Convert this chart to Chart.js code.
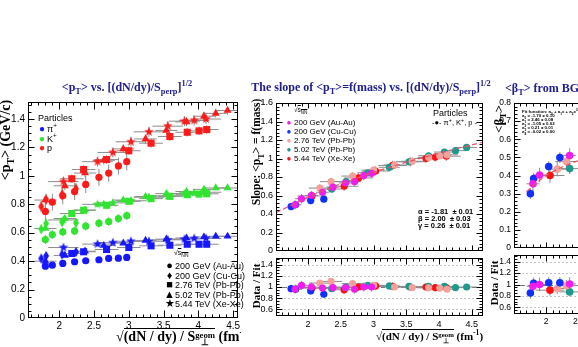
<!DOCTYPE html>
<html>
<head>
<meta charset="utf-8">
<script src="https://cdn.jsdelivr.net/npm/chart.js@4.4.1/dist/chart.umd.min.js"></script>
<style>
  body { margin: 0; width: 578px; height: 347px; overflow: hidden; background: #fff; position: relative; font-family: "Liberation Sans", Arial, sans-serif; }
  .box { position: absolute; }
  .t { position: absolute; white-space: nowrap; line-height: 1; }
  .ttl { font: bold 12px "Liberation Serif", serif; color: #20208c; }
  .ser { font-weight: bold; font-family: "Liberation Serif", serif; }
  .rot { transform: translate(-50%, -50%) rotate(-90deg); }
  .t sub, .t sup { font-size: 70%; line-height: 0; }
  .ss { display: inline-block; vertical-align: -0.45em; line-height: 0.85; font-size: 62%; text-align: center; }
  .leg div { height: 9.6px; line-height: 9.6px; }
  .mk { display: inline-block; width: 10px; text-align: center; }
  .big .mk { font-size: 11px; width: 11px; }
</style>
</head>
<body>
<div id="stage"></div>

<!-- titles -->
<div class="t ttl" style="left:127px;top:87px;transform:translate(-50%,-50%)">&lt;p<sub>T</sub>&gt; vs. [(dN/dy)/S<sub>perp</sub>]<sup>1/2</sup></div>
<div class="t ttl" style="left:371px;top:87px;transform:translate(-50%,-50%)">The slope of &lt;p<sub>T</sub>&gt;=f(mass) vs. [(dN/dy)/S<sub>perp</sub>]<sup>1/2</sup></div>
<div class="t ttl" style="left:505px;top:81px">&lt;β<sub>T</sub>&gt; from BGBW</div>

<!-- axis titles -->
<div class="t ser rot" style="left:6px;top:140px;font-size:14px">&lt;p<sub>T</sub>&gt; (GeV/c)</div>
<div class="t ser rot" style="left:257px;top:152px;font-size:11.5px">Slope: &lt;p<sub>T</sub>&gt; = f(mass)</div>
<div class="t ser rot" style="left:256px;top:286px;font-size:11px">Data / Fit</div>
<div class="t ser rot" style="left:498px;top:119px;font-size:13px">&lt;β<sub>T</sub>&gt;</div>
<div class="t ser rot" style="left:494px;top:283px;font-size:11px">Data / Fit</div>

<div class="box" style="left:0;top:322px;width:241px;height:25px;overflow:hidden">
  <div class="t ser" style="left:116px;top:8px;font-size:14px">√<span style="border-top:1.4px solid #000">(dN / dy) / S<span class="ss">geom<br>⊥</span></span> (fm<sup>-1</sup>)</div>
</div>
<div class="t ser" style="left:376px;top:331px;font-size:11px">√<span style="border-top:1.2px solid #000">(dN / dy) / S<span class="ss">geom<br>⊥</span></span> (fm<sup>-1</sup>)</div>

<!-- left legends -->
<div class="t" style="left:38px;top:114px;font-size:9px">Particles</div>
<div class="t leg" style="left:37px;top:124px;font-size:9px">
  <div><span class="mk" style="color:#1616ff;font-size:10px">●</span>π<sup>+</sup></div>
  <div><span class="mk" style="color:#2ee62e;font-size:10px">●</span>K<sup>+</sup></div>
  <div><span class="mk" style="color:#ff1a1a;font-size:10px">●</span>p</div>
</div>
<div class="t" style="left:174px;top:249px;font-size:7px">√<span style="text-decoration:overline">s<sub>NN</sub></span></div>
<div class="t leg big" style="left:164px;top:261px;font-size:9px">
  <div><span class="mk">●</span>200 GeV (Au-Au)</div>
  <div><span class="mk">♦</span>200 GeV (Cu-Cu)</div>
  <div><span class="mk">■</span>2.76 TeV (Pb-Pb)</div>
  <div><span class="mk">▲</span>5.02 TeV (Pb-Pb)</div>
  <div><span class="mk">★</span>5.44 TeV (Xe-Xe)</div>
</div>

<!-- middle legends -->
<div class="t" style="left:294px;top:107px;font-size:6.5px">√<span style="text-decoration:overline">s<sub>NN</sub></span></div>
<div class="t leg" style="left:284px;top:118px;font-size:8px">
  <div style="height:9px;line-height:9px"><span class="mk" style="color:#f01cf0">●</span>200 GeV (Au-Au)</div>
  <div style="height:9px;line-height:9px"><span class="mk" style="color:#1030ff">●</span>200 GeV (Cu-Cu)</div>
  <div style="height:9px;line-height:9px"><span class="mk" style="color:#f5a09a">●</span>2.76 TeV (Pb-Pb)</div>
  <div style="height:9px;line-height:9px"><span class="mk" style="color:#1d9a8c">●</span>5.02 TeV (Pb-Pb)</div>
  <div style="height:9px;line-height:9px"><span class="mk" style="color:#ff1010">●</span>5.44 TeV (Xe-Xe)</div>
</div>
<div class="t" style="left:433px;top:109px;font-size:9px">Particles</div>
<div class="t" style="left:432px;top:119px;font-size:7.5px">-●- π<sup>+</sup>, K<sup>+</sup>, p -</div>
<div class="t" style="left:418px;top:209px;font-size:7.5px;font-weight:bold;line-height:6.8px">α = -1.81 &nbsp;± 0.01<br>β = 2.00 &nbsp;± 0.03<br>γ = 0.26 &nbsp;± 0.01</div>

<!-- right fit box -->
<div class="t" style="left:522px;top:110px;font-size:4.4px;font-weight:bold;line-height:4px">Fit function: a<sub>0</sub> + a<sub>1</sub>x + a<sub>2</sub>x<sup>2</sup> + a<sub>3</sub>x<sup>3</sup> + a<sub>4</sub>x<sup>4</sup><br>a<sub>0</sub> = -1.70 ± 0.10<br>a<sub>1</sub> = 2.46 ± 0.08<br>a<sub>2</sub> = -1.05 ± 0.02<br>a<sub>3</sub> = 0.21 ± 0.01<br>a<sub>4</sub> = -0.02 ± 0.00</div>

<script>
// ---- left panel: <pT> vs sqrt((dN/dy)/S) ----
const xAuAu = [1.80, 1.90, 2.05, 2.22, 2.38, 2.57, 2.71, 2.85, 2.97];
const piAuAu = [0.365, 0.372, 0.384, 0.396, 0.403, 0.410, 0.419, 0.421, 0.426];
const kAuAu = [0.552, 0.587, 0.606, 0.613, 0.646, 0.667, 0.678, 0.700, 0.720];
const pAuAu = [0.75, 0.815, 0.86, 0.89, 0.94, 0.99, 1.02, 1.07, 1.10];

const xCuCu = [1.74, 1.81, 2.04, 2.24];
const piCuCu = [0.419, 0.437, 0.447, 0.465];
const kCuCu = [0.625, 0.665, 0.675, 0.67];
const pCuCu = [0.785, 0.835, 0.87, 0.91];

const xPb276 = [2.18, 2.35, 2.68, 3.00, 3.32, 3.59, 3.84, 4.01, 4.12];
const piPb276 = [0.454, 0.466, 0.482, 0.496, 0.508, 0.512, 0.519, 0.519, 0.519];
const kPb276 = [0.735, 0.758, 0.793, 0.821, 0.840, 0.856, 0.868, 0.872, 0.874];
const pPb276 = [0.98, 1.045, 1.115, 1.177, 1.23, 1.277, 1.307, 1.317, 1.326];

const xPb502 = [1.80, 2.08, 2.37, 2.64, 2.92, 3.24, 3.54, 3.83, 4.08, 4.25, 4.42];
const piPb502 = [0.40, 0.44, 0.47, 0.51, 0.527, 0.546, 0.555, 0.563, 0.57, 0.575, 0.575];
const kPb502 = [0.63, 0.70, 0.76, 0.80, 0.83, 0.855, 0.875, 0.89, 0.905, 0.915, 0.915];
const pPb502 = [0.83, 0.93, 1.02, 1.11, 1.19, 1.26, 1.32, 1.38, 1.42, 1.44, 1.46];

const xXeXe = [2.06, 2.55, 2.77, 3.03, 3.29, 3.56, 3.80, 3.94, 4.11];
const piXeXe = [0.496, 0.52, 0.53, 0.54, 0.54, 0.55, 0.555, 0.56, 0.56];
const kXeXe = [0.69, 0.80, 0.81, 0.825, 0.85, 0.86, 0.875, 0.88, 0.885];
const pXeXe = [0.96, 1.10, 1.165, 1.24, 1.31, 1.35, 1.385, 1.39, 1.40];

const leftXTicks = [2, 2.5, 3, 3.5, 4, 4.5];
const leftYTicks = [0, 0.2, 0.4, 0.6, 0.8, 1, 1.2, 1.4];

// ---- middle panel: slope of <pT>=f(mass) and Data/Fit ----
const slopeAuAu = [0.50, 0.565, 0.60, 0.635, 0.69, 0.735, 0.75, 0.815, 0.84];
const ratioAuAu = [0.96, 1.03, 1.00, 0.98, 0.99, 0.99, 0.96, 1.00, 1.00];
const slopeCuCu = [0.48, 0.50, 0.545, 0.56];
const ratioCuCu = [0.97, 0.96, 0.93, 0.87];
const slopePb276 = [0.68, 0.75, 0.81, 0.875, 0.93, 0.97, 1.01, 1.03, 1.04];
const ratioPb276 = [1.07, 1.10, 1.06, 1.03, 1.00, 0.99, 0.985, 0.98, 0.96];
const xSlopePb502 = [2.36, 2.58, 2.91, 3.24, 3.54, 3.84, 4.08, 4.25, 4.42];
const slopePb502 = [0.67, 0.75, 0.845, 0.905, 0.965, 1.03, 1.07, 1.085, 1.12];
const ratioPb502 = [0.97, 1.00, 1.03, 1.02, 1.01, 1.01, 1.01, 0.99, 1.00];
const slopeXeXe = [0.595, 0.70, 0.79, 0.865, 0.925, 0.965, 1.00, 1.015, 1.025];
const ratioXeXe = [0.98, 0.95, 1.00, 1.02, 1.01, 1.00, 1.00, 0.99, 0.99];
const slopeFitX = [1.51, 2.0, 2.5, 3.0, 3.5, 4.0, 4.5, 4.67];
const slopeFitY = [0.415, 0.584, 0.728, 0.852, 0.96, 1.058, 1.147, 1.176];

const midXTicks = [2, 2.5, 3, 3.5, 4, 4.5];
const slopeYTicks = [0, 0.2, 0.4, 0.6, 0.8, 1, 1.2, 1.4, 1.6];
const ratioYTicks = [0.6, 0.8, 1, 1.2, 1.4];

// ---- right panel: <betaT> from BGBW (only the left edge is visible) ----
const xBetaAuAu = [1.80, 1.90, 2.36];
const betaAuAu = [0.354, 0.403, 0.51];
const bRatioAuAu = [0.97, 1.00, 1.01];
const xBetaCuCu = [1.76, 1.81, 2.04, 2.21];
const betaCuCu = [0.30, 0.383, 0.449, 0.499];
const bRatioCuCu = [0.85, 1.02, 1.03, 1.03];
const xBetaPb276 = [2.17, 2.31];
const betaPb276 = [0.435, 0.477];
const bRatioPb276 = [0.93, 0.98];
const xBetaPb502 = [2.36];
const betaPb502 = [0.438];
const bRatioPb502 = [0.87];
const xBetaXeXe = [2.06];
const betaXeXe = [0.40];
const bRatioXeXe = [0.90];
const betaFitX = [1.70, 1.85, 2.0, 2.2, 2.4, 2.6];
const betaFitY = [0.31, 0.36, 0.40, 0.44, 0.47, 0.495];
const betaYTicks = [0, 0.1, 0.2, 0.3, 0.4, 0.5, 0.6, 0.7, 0.8];

const PI_C = '#1616ff', K_C = '#2ee62e', P_C = '#ff1a1a';
const C_AUAU = '#f01cf0', C_CUCU = '#1030ff', C_PB276 = '#f5a09a', C_PB502 = '#1d9a8c', C_XEXE = '#ff1010';

// custom marker images for star and narrow diamond
function starImg(color, r) {
  const c = document.createElement('canvas');
  c.width = c.height = 2 * r + 2;
  const g = c.getContext('2d');
  g.fillStyle = color;
  g.beginPath();
  for (let i = 0; i < 10; i++) {
    const rr = i % 2 ? r * 0.42 : r;
    const a = -Math.PI / 2 + i * Math.PI / 5;
    g.lineTo(r + 1 + rr * Math.cos(a), r + 1 + rr * Math.sin(a));
  }
  g.closePath();
  g.fill();
  return c;
}
function diamondImg(color, w, h) {
  const c = document.createElement('canvas');
  c.width = 2 * w + 2; c.height = 2 * h + 2;
  const g = c.getContext('2d');
  g.fillStyle = color;
  g.beginPath();
  g.moveTo(w + 1, 1); g.lineTo(2 * w + 1, h + 1); g.lineTo(w + 1, 2 * h + 1); g.lineTo(1, h + 1);
  g.closePath();
  g.fill();
  return c;
}

function marker(kind, color, r) {
  if (kind === 'star') return { pointStyle: starImg(color, 5), pointRadius: 5 };
  if (kind === 'diamond') return { pointStyle: diamondImg(color, 3, 5), pointRadius: 4 };
  if (kind === 'rect') return { pointStyle: 'rect', pointRadius: 5 };
  if (kind === 'triangle') return { pointStyle: 'triangle', pointRadius: 4.6 };
  return { pointStyle: 'circle', pointRadius: r || 3.6 };
}

function points(xs, ys, color, kind, xErr, yErr, r) {
  return Object.assign({
    data: xs.map((x, i) => ({ x, y: ys[i] })),
    backgroundColor: color,
    borderColor: color,
    borderWidth: 0,
    xErr, yErr
  }, marker(kind, color, r));
}

function fitLine(xs, ys) {
  return {
    data: xs.map((x, i) => ({ x, y: ys[i] })),
    showLine: true,
    pointRadius: 0,
    borderColor: '#e8506a',
    borderWidth: 1.2,
    borderDash: [5, 3]
  };
}

// error bars, dotted lines, frame and inner ticks (ROOT look)
const framePlugin = {
  id: 'frame',
  beforeDatasetsDraw(chart, args, o) {
    const { ctx, chartArea: a, scales: { x, y } } = chart;
    ctx.save();
    ctx.beginPath();
    ctx.rect(a.left, a.top, a.right - a.left, a.bottom - a.top);
    ctx.clip();
    ctx.lineWidth = 1;
    (o.hlines || []).forEach(v => {
      const py = Math.round(y.getPixelForValue(v)) + 0.5;
      ctx.strokeStyle = v === 1 ? '#777' : '#c4c4c4';
      ctx.setLineDash(v === 1 ? [4, 3] : [2, 2]);
      ctx.beginPath(); ctx.moveTo(a.left, py); ctx.lineTo(a.right, py); ctx.stroke();
    });
    ctx.setLineDash([]);
    ctx.strokeStyle = '#8c8c8c';
    chart.data.datasets.forEach(ds => {
      if (ds.xErr === undefined) return;
      ds.data.forEach(d => {
        const px = x.getPixelForValue(d.x), py = y.getPixelForValue(d.y);
        ctx.beginPath();
        if (ds.xErr) {
          ctx.moveTo(x.getPixelForValue(d.x - ds.xErr), py);
          ctx.lineTo(x.getPixelForValue(d.x + ds.xErr), py);
        }
        if (ds.yErr) {
          ctx.moveTo(px, y.getPixelForValue(d.y - ds.yErr));
          ctx.lineTo(px, y.getPixelForValue(d.y + ds.yErr));
        }
        ctx.stroke();
      });
    });
    ctx.restore();
  },
  afterDraw(chart, args, o) {
    const { ctx, chartArea: a, scales: { x, y } } = chart;
    if (!o.minorX) return;
    ctx.save();
    ctx.strokeStyle = '#000';
    ctx.lineWidth = 1;
    const L = Math.round(a.left) + 0.5, R = Math.round(a.right) - 0.5;
    const T = Math.round(a.top) + 0.5, B = Math.round(a.bottom) - 0.5;
    ctx.strokeRect(L, T, R - L, B - T);
    ctx.beginPath();
    const tickX = (v, len) => {
      const p = Math.round(x.getPixelForValue(v)) + 0.5;
      if (p < L || p > R) return;
      ctx.moveTo(p, B); ctx.lineTo(p, B - len);
      ctx.moveTo(p, T); ctx.lineTo(p, T + len);
    };
    const tickY = (v, len) => {
      const p = Math.round(y.getPixelForValue(v)) + 0.5;
      if (p < T || p > B) return;
      ctx.moveTo(L, p); ctx.lineTo(L + len, p);
      ctx.moveTo(R, p); ctx.lineTo(R - len, p);
    };
    for (let k = Math.ceil(x.min / o.minorX - 1e-6); k * o.minorX <= x.max + 1e-6; k++) tickX(k * o.minorX, o.minorLen);
    for (let k = Math.ceil(y.min / o.minorY - 1e-6); k * o.minorY <= y.max + 1e-6; k++) tickY(k * o.minorY, o.minorLen);
    x.ticks.forEach(t => tickX(t.value, o.majorX));
    y.ticks.forEach(t => tickY(t.value, o.majorY));
    ctx.stroke();
    ctx.restore();
  }
};
Chart.register(framePlugin);

function axis(min, max, ticks, showLabels, size, fontSize, pad) {
  return {
    type: 'linear', min, max,
    afterBuildTicks: s => { s.ticks = ticks.map(v => ({ value: v })); },
    afterFit: s => {
      if (s.isHorizontal()) s.height = size; else s.width = size;
      // keep the plot frame exactly where the layout puts it
      s.paddingTop = s.paddingBottom = s.paddingLeft = s.paddingRight = 0;
    },
    grid: { display: false, drawTicks: false },
    border: { display: false },
    ticks: {
      display: showLabels, color: '#000', padding: pad, autoSkip: false, maxRotation: 0,
      font: { family: 'Liberation Sans', size: fontSize },
      callback: v => String(v)
    }
  };
}

function makeChart(box, datasets, xAxis, yAxis, pad, frame) {
  const holder = document.createElement('div');
  holder.className = 'box';
  holder.style.left = box[0] + 'px';
  holder.style.top = box[1] + 'px';
  holder.style.width = box[2] + 'px';
  holder.style.height = box[3] + 'px';
  const cv = document.createElement('canvas');
  holder.appendChild(cv);
  document.getElementById('stage').appendChild(holder);
  return new Chart(cv, {
    type: 'scatter',
    data: { datasets },
    options: {
      responsive: true,
      maintainAspectRatio: false,
      animation: false,
      events: [],
      layout: { padding: { left: 0, top: pad[0], right: pad[1], bottom: 0 } },
      scales: { x: xAxis, y: yAxis },
      plugins: { legend: { display: false }, tooltip: { enabled: false }, frame }
    }
  });
}

// left panel
makeChart([0, 95, 245, 245], [
  points(xAuAu, pAuAu, P_C, 'circle', 0, 0.06),
  points(xAuAu, kAuAu, K_C, 'circle', 0, 0.03),
  points(xAuAu, piAuAu, PI_C, 'circle', 0, 0.008),
  points(xCuCu, pCuCu, P_C, 'diamond', 0.03, 0.04),
  points(xCuCu, kCuCu, K_C, 'diamond', 0.03, 0.03),
  points(xCuCu, piCuCu, PI_C, 'diamond', 0.03, 0.015),
  points(xPb276, pPb276, P_C, 'rect', 0.17, 0.03),
  points(xPb276, kPb276, K_C, 'rect', 0.17, 0.02),
  points(xPb276, piPb276, PI_C, 'rect', 0.17, 0.015),
  points(xPb502, pPb502, P_C, 'triangle', 0.16, 0.03),
  points(xPb502, kPb502, K_C, 'triangle', 0.16, 0.015),
  points(xPb502, piPb502, PI_C, 'triangle', 0.16, 0.01),
  points(xXeXe, pXeXe, P_C, 'star', 0.22, 0.035),
  points(xXeXe, kXeXe, K_C, 'star', 0.22, 0.02),
  points(xXeXe, piXeXe, PI_C, 'star', 0.22, 0.01)
], axis(1.55, 4.57, leftXTicks, true, 22, 10, 2),
   axis(0, 1.52, leftYTicks, true, 28, 10, 3),
   [7, 7], { minorX: 0.1, minorY: 0.05, majorX: 7, majorY: 6, minorLen: 3 });

// middle panel, top
makeChart([240, 95, 250, 160], [
  fitLine(slopeFitX, slopeFitY),
  points(xAuAu, slopeAuAu, C_AUAU, 'circle', 0.1, 0.05, 3.6),
  points(xCuCu, slopeCuCu, C_CUCU, 'circle', 0.05, 0.04, 3.6),
  points(xPb276, slopePb276, C_PB276, 'circle', 0.17, 0.04, 3.6),
  points(xSlopePb502, slopePb502, C_PB502, 'circle', 0.16, 0.03, 3.6),
  points(xXeXe, slopeXeXe, C_XEXE, 'circle', 0.22, 0.05, 3.6)
], axis(1.51, 4.67, midXTicks, false, 3, 9, 3),
   axis(0, 1.6, slopeYTicks, true, 36, 9, 3),
   [8, 7], { minorX: 0.1, minorY: 0.04, majorX: 5, majorY: 6, minorLen: 3 });

// middle panel, bottom (Data / Fit)
makeChart([240, 254, 250, 82], [
  points(xAuAu, ratioAuAu, C_AUAU, 'circle', 0.1, 0.08, 3.6),
  points(xCuCu, ratioCuCu, C_CUCU, 'circle', 0.05, 0.07, 3.6),
  points(xPb276, ratioPb276, C_PB276, 'circle', 0.17, 0.05, 3.6),
  points(xSlopePb502, ratioPb502, C_PB502, 'circle', 0.16, 0.03, 3.6),
  points(xXeXe, ratioXeXe, C_XEXE, 'circle', 0.22, 0.07, 3.6)
], axis(1.51, 4.67, midXTicks, true, 20, 9, 3),
   axis(0.48, 1.52, ratioYTicks, true, 36, 9, 3),
   [2, 7], { minorX: 0.1, minorY: 0.05, majorX: 6, majorY: 6, minorLen: 3, hlines: ratioYTicks });

// right panel, top
makeChart([480, 95, 260, 160], [
  fitLine(betaFitX, betaFitY),
  points(xBetaAuAu, betaAuAu, C_AUAU, 'circle', 0.1, 0.04, 3.8),
  points(xBetaCuCu, betaCuCu, C_CUCU, 'circle', 0.05, 0.03, 3.8),
  points(xBetaPb276, betaPb276, C_PB276, 'circle', 0.17, 0.04, 3.8),
  points(xBetaPb502, betaPb502, C_PB502, 'circle', 0.16, 0.03, 3.8),
  points(xBetaXeXe, betaXeXe, C_XEXE, 'circle', 0.22, 0.04, 3.8)
], axis(1.51, 4.67, midXTicks, false, 7, 8.5, 3),
   axis(0, 0.8, betaYTicks, true, 34, 8.5, 3),
   [8, 19], { minorX: 0.1, minorY: 0.02, majorX: 5, majorY: 6, minorLen: 3 });

// right panel, bottom (Data / Fit)
makeChart([480, 251, 260, 80], [
  points(xBetaAuAu, bRatioAuAu, C_AUAU, 'circle', 0.1, 0.12, 3.8),
  points(xBetaCuCu, bRatioCuCu, C_CUCU, 'circle', 0.05, 0.1, 3.8),
  points(xBetaPb276, bRatioPb276, C_PB276, 'circle', 0.17, 0.1, 3.8),
  points(xBetaPb502, bRatioPb502, C_PB502, 'circle', 0.16, 0.08, 3.8),
  points(xBetaXeXe, bRatioXeXe, C_XEXE, 'circle', 0.22, 0.1, 3.8)
], axis(1.51, 4.67, midXTicks, true, 17, 8.5, 3),
   axis(0.48, 1.52, ratioYTicks, true, 34, 8.5, 3),
   [2, 19], { minorX: 0.1, minorY: 0.05, majorX: 6, majorY: 6, minorLen: 3, hlines: ratioYTicks });
</script>
</body>
</html>
